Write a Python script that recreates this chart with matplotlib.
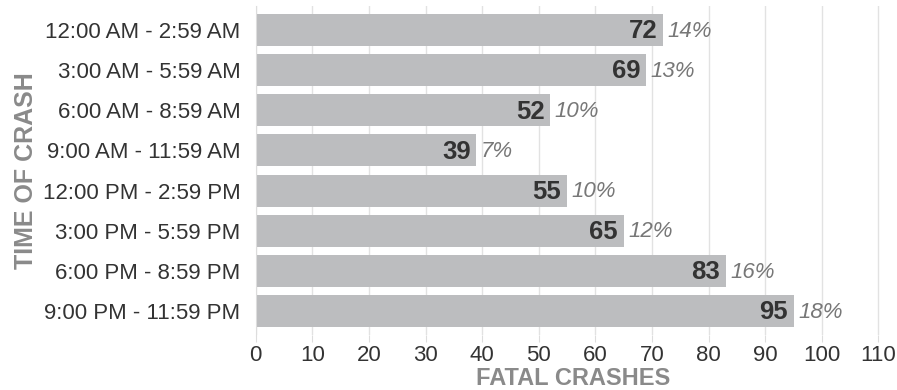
import matplotlib
matplotlib.use("Agg")
import matplotlib.pyplot as plt

categories = ["12:00 AM - 2:59 AM", "3:00 AM - 5:59 AM", "6:00 AM - 8:59 AM",
              "9:00 AM - 11:59 AM", "12:00 PM - 2:59 PM", "3:00 PM - 5:59 PM",
              "6:00 PM - 8:59 PM", "9:00 PM - 11:59 PM"]
crashes = [72, 69, 52, 39, 55, 65, 83, 95]
percents = ["14%", "13%", "10%", "7%", "10%", "12%", "16%", "18%"]
xticks = list(range(0, 111, 10))

plt.rcParams['font.family'] = ["Liberation Sans", 'DejaVu Sans']

fig = plt.figure(figsize=(8.97, 3.90), dpi=100)
ax = fig.add_axes([0.285, 0.141, 0.707, 0.8436])

y = list(range(len(categories)))
ax.barh(y, crashes, height=0.8, color="#bcbdbf", zorder=2)
ax.set_ylim(len(categories) - 0.4, -0.6)
ax.set_xlim(0, 112)
ax.set_xticks(xticks)
ax.set_yticks(y)
ax.set_yticklabels(categories, fontsize=16, color="#333333")
ax.tick_params(axis='x', labelsize=16, labelcolor="#333333", length=5, color="#dddddd", pad=2)
ax.tick_params(axis='y', length=0, pad=11)
ax.grid(axis='x', color="#e2e2e2", linewidth=1, zorder=0)
for s in ["top", "right", "bottom"]:
    ax.spines[s].set_visible(False)
ax.spines["left"].set_color("#dddddd")

for yi, v, p in zip(y, crashes, percents):
    ax.text(v - 1.0, yi + 0.03, str(v), ha="right", va="center", fontsize=18.5,
            fontweight="bold", color="#333333", zorder=3)
    ax.text(v + 0.8, yi + 0.03, p, ha="left", va="center", fontsize=16,
            style="italic", color="#777777", zorder=3)

ax.set_xlabel("FATAL CRASHES", fontsize=17, fontweight="bold", color="#8a8a8a")
ax.xaxis.set_label_coords(0.5, -0.098)
ax.set_ylabel("TIME OF CRASH", fontsize=18, fontweight="bold", color="#8a8a8a", labelpad=3)

fig.savefig("out.png", dpi=100)
